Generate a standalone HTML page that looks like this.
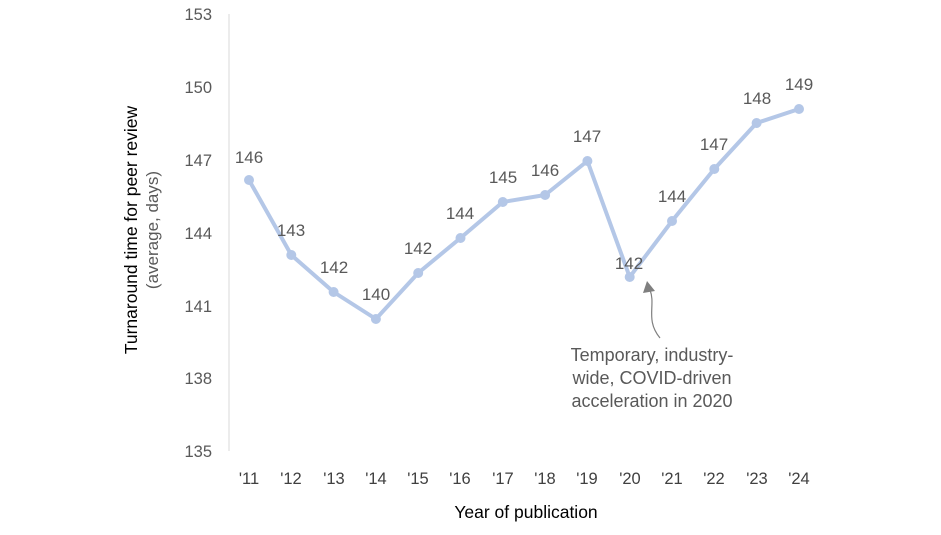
<!DOCTYPE html><html><head><style>body{margin:0;background:#fff}svg{display:block}text{font-family:"Liberation Sans",sans-serif}</style></head><body>
<svg width="941" height="535" viewBox="0 0 941 535">
<line x1="229" y1="14" x2="229" y2="451" stroke="#d9d9d9" stroke-width="1"/>
<g fill="#595959" font-size="16.5" text-anchor="end">
<text x="212" y="20">153</text><text x="212" y="93">150</text><text x="212" y="166">147</text><text x="212" y="239">144</text><text x="212" y="312">141</text><text x="212" y="384">138</text><text x="212" y="457">135</text>
</g>
<g fill="#404040" font-size="16.5" text-anchor="middle">
<text x="249" y="484">'11</text><text x="291" y="484">'12</text><text x="334" y="484">'13</text><text x="376" y="484">'14</text><text x="418" y="484">'15</text><text x="460" y="484">'16</text><text x="503" y="484">'17</text><text x="545" y="484">'18</text><text x="587" y="484">'19</text><text x="630" y="484">'20</text><text x="672" y="484">'21</text><text x="714" y="484">'22</text><text x="757" y="484">'23</text><text x="799" y="484">'24</text>
</g>
<text x="526" y="518" font-size="17.5" fill="#000" text-anchor="middle">Year of publication</text>
<text transform="translate(137,230) rotate(-90)" font-size="17.5" fill="#000" text-anchor="middle">Turnaround time for peer review</text>
<text transform="translate(158,230) rotate(-90)" font-size="17" fill="#595959" text-anchor="middle">(average,  days)</text>
<polyline fill="none" stroke="#b4c7e7" stroke-width="4" stroke-linejoin="round" points="249,180 291.3,255 333.6,292 375.9,319 418.2,273 460.5,238 502.8,202 545.1,195 587.4,161 629.7,277 672,221 714.3,169 756.6,123 799,109"/>
<g fill="#b4c7e7">
<circle cx="249" cy="180" r="5"/><circle cx="291.3" cy="255" r="5"/><circle cx="333.6" cy="292" r="5"/><circle cx="375.9" cy="319" r="5"/><circle cx="418.2" cy="273" r="5"/><circle cx="460.5" cy="238" r="5"/><circle cx="502.8" cy="202" r="5"/><circle cx="545.1" cy="195" r="5"/><circle cx="587.4" cy="161" r="5"/><circle cx="629.7" cy="277" r="5"/><circle cx="672" cy="221" r="5"/><circle cx="714.3" cy="169" r="5"/><circle cx="756.6" cy="123" r="5"/><circle cx="799" cy="109" r="5"/>
</g>
<g fill="#595959" font-size="17" text-anchor="middle">
<text x="249" y="163">146</text><text x="291" y="236">143</text><text x="334" y="273">142</text><text x="376" y="300">140</text><text x="418" y="254">142</text><text x="460" y="219">144</text><text x="503" y="183">145</text><text x="545" y="176">146</text><text x="587" y="142">147</text><text x="629" y="269">142</text><text x="672" y="202">144</text><text x="714" y="150">147</text><text x="757" y="104">148</text><text x="799" y="90">149</text>
</g>
<path d="M660,338 C645,320 656,305 650,290" fill="none" stroke="#7f7f7f" stroke-width="1.2"/>
<polygon points="647,281 643,293 655,291" fill="#7f7f7f"/>
<g fill="#595959" font-size="18" text-anchor="middle">
<text x="652" y="361">Temporary, industry-</text><text x="652" y="384">wide, COVID-driven</text><text x="652" y="407">acceleration in 2020</text>
</g>
</svg></body></html>
